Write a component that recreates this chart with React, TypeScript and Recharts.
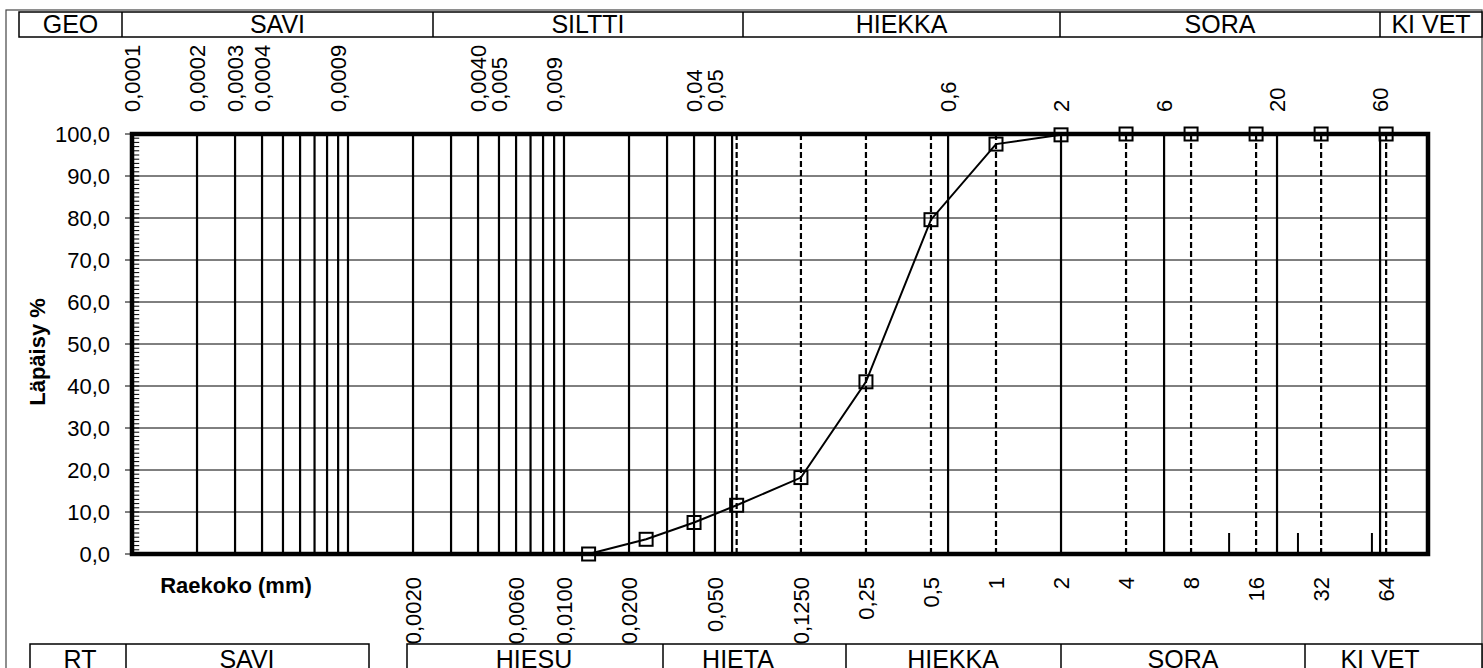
import React from 'react';
import {
  ComposedChart, Line, XAxis, YAxis, CartesianGrid, ReferenceLine, ReferenceArea,
} from 'recharts';

// sieve result: grain size (mm) vs. passing (%)
const grainSize = [0.013, 0.024, 0.04, 0.063, 0.125, 0.25, 0.5, 1, 2, 4, 8, 16, 32, 64];
const passing = [0, 3.5, 7.5, 11.6, 18.2, 41.0, 79.6, 97.6, 99.8, 100, 100, 100, 100, 100];

const solidLines = [
  0.0002, 0.0003, 0.0004, 0.0005, 0.0006, 0.0007, 0.0008, 0.0009, 0.001,
  0.002, 0.003, 0.004, 0.005, 0.006, 0.007, 0.008, 0.009, 0.01,
  0.02, 0.03, 0.04, 0.05, 0.06, 0.6, 2, 6, 20, 60,
];
const dashedLines = [0.063, 0.125, 0.25, 0.5, 1, 4, 8, 16, 32, 64];
const shortTicks = [12, 25, 55];

const topTickValues = [0.0001, 0.0002, 0.0003, 0.0004, 0.0009, 0.004, 0.005, 0.009, 0.04, 0.05, 0.6, 2, 6, 20, 60];
const topTickLabels = ['0,0001', '0,0002', '0,0003', '0,0004', '0,0009', '0,0040', '0,005', '0,009', '0,04', '0,05', '0,6', '2', '6', '20', '60'];

const bottomTickValues = [0.002, 0.006, 0.01, 0.02, 0.05, 0.125, 0.25, 0.5, 1, 2, 4, 8, 16, 32, 64];
const bottomTickLabels = ['0,0020', '0,0060', '0,0100', '0,0200', '0,050', '0,1250', '0,25', '0,5', '1', '2', '4', '8', '16', '32', '64'];

const yTicks = [0, 10, 20, 30, 40, 50, 60, 70, 80, 90, 100];
const yMinorTicks = Array.from({ length: 101 }, (_, i) => i);

const topZones = ['GEO', 'SAVI', 'SILTTI', 'HIEKKA', 'SORA', 'KI VET'];
const bottomZones = ['RT', 'SAVI', 'HIESU', 'HIETA', 'HIEKKA', 'SORA', 'KI VET'];

const data = grainSize.map((d, i) => ({ d, p: passing[i] }));

const FONT = '"Liberation Sans", Arial, sans-serif';
const W = 1483;
const H = 668;

// header table layout (px)
const topEdges = [19, 122, 433, 743, 1060, 1380, 1482];
const bottomCenters = [80, 247, 534, 738, 953, 1183, 1380];

const Square = (props: any) => {
  const { cx, cy, index } = props;
  if (cx == null || cy == null) return null;
  return <rect key={index} x={cx - 6.5} y={cy - 6.5} width={13} height={13} fill="none" stroke="#000" strokeWidth={2} />;
};

const topTick = (p: any) => (
  <text
    key={p.index}
    x={p.x}
    y={112}
    dy="0.35em"
    transform={`rotate(-90 ${p.x} 112)`}
    textAnchor="start"
    fontSize={22}
    fontFamily={FONT}
    fill="#000"
  >
    {topTickLabels[p.index]}
  </text>
);

const bottomTick = (p: any) => (
  <text
    key={p.index}
    x={p.x}
    y={577}
    dy="0.35em"
    transform={`rotate(-90 ${p.x} 577)`}
    textAnchor="end"
    fontSize={22}
    fontFamily={FONT}
    fill="#000"
  >
    {bottomTickLabels[p.index]}
  </text>
);

export default function App() {
  return (
    <div style={{ position: 'relative', width: W, height: H, overflow: 'hidden', background: '#fff', fontFamily: FONT }}>
      <style>{'body{margin:0}'}</style>
      <ComposedChart width={W} height={H} data={data} margin={{ top: 104, right: 55, left: 72, bottom: 74 }}>
        <CartesianGrid vertical={false} stroke="#000" strokeWidth={1} />
        <XAxis
          dataKey="d"
          type="number"
          scale="log"
          domain={[0.0001, 100]}
          allowDataOverflow
          ticks={bottomTickValues}
          interval={0}
          axisLine={false}
          tickLine={false}
          height={40}
          tick={bottomTick}
        />
        <XAxis
          xAxisId="top"
          orientation="top"
          dataKey="d"
          type="number"
          scale="log"
          domain={[0.0001, 100]}
          allowDataOverflow
          ticks={topTickValues}
          interval={0}
          axisLine={false}
          tickLine={false}
          height={30}
          tick={topTick}
        />
        <YAxis
          type="number"
          domain={[0, 100]}
          ticks={yTicks}
          interval={0}
          width={60}
          tickSize={7}
          tickMargin={15}
          axisLine={false}
          tickLine={{ stroke: '#000', strokeWidth: 1 }}
          tick={{ fill: '#000', fontSize: 22, fontFamily: FONT }}
          tickFormatter={(v: number) => v.toFixed(1).replace('.', ',')}
        />
        {solidLines.map((v) => (
          <ReferenceLine key={`s${v}`} x={v} stroke="#000" strokeWidth={2.2} />
        ))}
        {dashedLines.map((v) => (
          <ReferenceLine key={`d${v}`} x={v} stroke="#000" strokeWidth={2.2} strokeDasharray="6 3" />
        ))}
        {shortTicks.map((v) => (
          <ReferenceLine key={`t${v}`} segment={[{ x: v, y: 0 }, { x: v, y: 5 }]} stroke="#000" strokeWidth={2} />
        ))}
        {/* minor ticks along the inside of the y axis */}
        {yMinorTicks.map((v) => (
          <ReferenceLine
            key={`m${v}`}
            segment={[{ x: 0.0001, y: v }, { x: 0.000108, y: v }]}
            stroke="#000"
            strokeWidth={1}
          />
        ))}
        <ReferenceArea x1={0.0001} x2={100} y1={0} y2={100} fill="none" stroke="#000" strokeWidth={4.5} ifOverflow="visible" />
        <Line
          dataKey="p"
          type="linear"
          stroke="#000"
          strokeWidth={2}
          dot={<Square />}
          activeDot={false}
          isAnimationActive={false}
        />
      </ComposedChart>

      <svg width={W} height={H} style={{ position: 'absolute', left: 0, top: 0, pointerEvents: 'none' }} fontFamily={FONT}>
        <rect x={6} y={10} width={1476} height={700} fill="none" stroke="#444" strokeWidth={1.2} />

        {/* top zone table */}
        <rect x={topEdges[0]} y={12} width={topEdges[6] - topEdges[0]} height={25} fill="#fff" stroke="#000" strokeWidth={1.5} />
        {topEdges.slice(1, -1).map((x) => (
          <line key={x} x1={x} x2={x} y1={12} y2={37} stroke="#000" strokeWidth={1.5} />
        ))}
        {topZones.map((z, i) => (
          <text key={z} x={(topEdges[i] + topEdges[i + 1]) / 2} y={33} fontSize={25} textAnchor="middle">{z}</text>
        ))}

        {/* axis titles */}
        <text x={45} y={352} transform="rotate(-90 45 352)" fontSize={22} fontWeight="bold" textAnchor="middle">Läpäisy %</text>
        <text x={236} y={593} fontSize={22} fontWeight="bold" textAnchor="middle">Raekoko (mm)</text>

        {/* bottom zone table */}
        <rect x={30} y={644} width={339} height={40} fill="#fff" stroke="#000" strokeWidth={1.5} />
        <line x1={126} x2={126} y1={644} y2={684} stroke="#000" strokeWidth={1.5} />
        <rect x={407} y={644} width={1075} height={40} fill="#fff" stroke="#000" strokeWidth={1.5} />
        {[663, 846, 1061, 1305].map((x) => (
          <line key={x} x1={x} x2={x} y1={644} y2={684} stroke="#000" strokeWidth={1.5} />
        ))}
        {bottomZones.map((z, i) => (
          <text key={i} x={bottomCenters[i]} y={668} fontSize={25} textAnchor="middle">{z}</text>
        ))}
      </svg>
    </div>
  );
}
